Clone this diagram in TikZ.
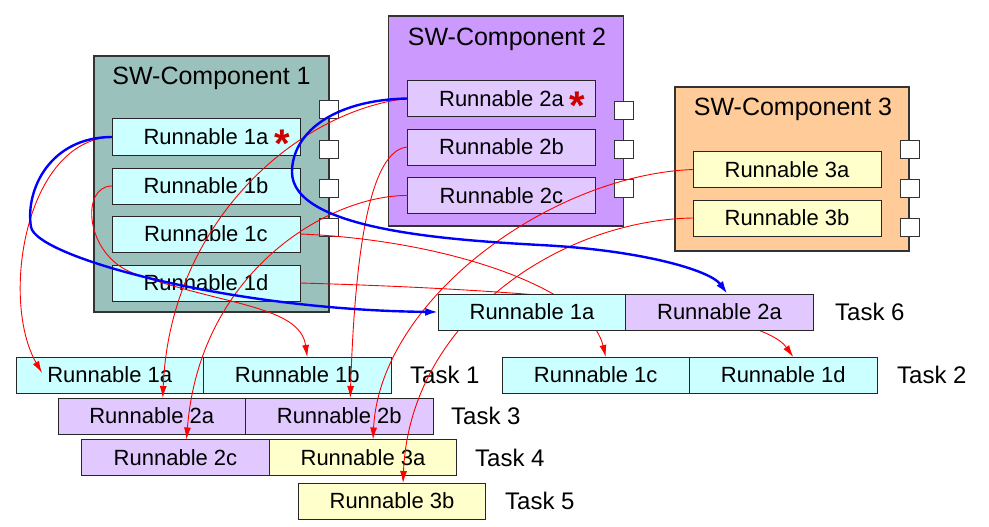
\documentclass[tikz,border=0pt]{standalone}
\usepackage{fontspec}
\setmainfont{Liberation Sans}
\usetikzlibrary{arrows.meta,calc}
\definecolor{cmpA}{RGB}{155,193,188}
\definecolor{cmpB}{RGB}{204,153,255}
\definecolor{cmpC}{RGB}{255,204,153}
\definecolor{runA}{RGB}{204,255,255}
\definecolor{runB}{RGB}{225,200,255}
\definecolor{runC}{RGB}{255,255,204}
\definecolor{edgegray}{RGB}{51,51,51}
\definecolor{starred}{RGB}{204,0,0}
\begin{document}
\begin{tikzpicture}[x=1pt,y=-1pt,
  comp/.style={draw=edgegray,line width=1.2pt,inner sep=0,outer sep=0},
  run/.style={draw=black!85,line width=1pt,inner sep=0,outer sep=0,minimum width=188pt,minimum height=36pt,font=\fontsize{22}{26}\selectfont},
  task/.style={run,minimum width=187.5pt},
  port/.style={draw=edgegray,fill=white,line width=1pt,minimum width=19pt,minimum height=18pt,inner sep=0,outer sep=0},
  title/.style={font=\fontsize{25}{30}\selectfont,inner sep=0},
  tlabel/.style={font=\fontsize{24}{28}\selectfont,inner sep=0,anchor=west},
  flow/.style={red,line width=0.9pt,-{Latex[length=12pt,width=7pt]}},
  call/.style={blue,line width=2.4pt,-{Latex[length=13pt,width=8pt]}},
  starmark/.style={text=starred,font=\fontsize{40}{40}\selectfont\bfseries,inner sep=0}
]
\useasboundingbox (0,0) rectangle (989,527);
% ---------- components ----------
\node[comp,fill=cmpA,minimum width=235pt,minimum height=256pt] (C1) at (211.5,184) {};
\node[comp,fill=cmpB,minimum width=235pt,minimum height=210pt] (C2) at (506,121) {};
\node[comp,fill=cmpC,minimum width=234pt,minimum height=164pt] (C3) at (792,169) {};
\node[title] (T1) at (211.5,78) {SW-Component 1};
\node[title] (T2) at (507,39) {SW-Component 2};
\node[title] (T3) at (793,109) {SW-Component 3};
% runnables in components
\node[run,fill=runA] (r1a) at (206,137) {Runnable 1a};
\node[run,fill=runA] (r1b) at (206,186) {Runnable 1b};
\node[run,fill=runA] (r1c) at (206,234) {Runnable 1c};
\node[run,fill=runA] (r1d) at (206,283) {Runnable 1d};
\node[run,fill=runB] (r2a) at (501.5,98.5) {Runnable 2a};
\node[run,fill=runB] (r2b) at (501.5,147) {Runnable 2b};
\node[run,fill=runB] (r2c) at (501.5,195.5) {Runnable 2c};
\node[run,fill=runC] (r3a) at (787,169.5) {Runnable 3a};
\node[run,fill=runC] (r3b) at (787,218) {Runnable 3b};
% ports
\node[port] (p11) at (328.5,110) {};
\node[port] (p12) at (328.5,149) {};
\node[port] (p13) at (328.5,188) {};
\node[port] (p14) at (328.5,227) {};
\node[port] (p21) at (624,110.5) {};
\node[port] (p22) at (624,149) {};
\node[port] (p23) at (624,188) {};
\node[port] (p31) at (910,149) {};
\node[port] (p32) at (910,188) {};
\node[port] (p33) at (910,227) {};
% stars
\node[starmark] (s1) at (282,144) {*};
\node[starmark] (s2) at (577,106) {*};
% ---------- tasks ----------
\node[task,fill=runA] (k1a) at (109.75,375) {Runnable 1a};
\node[task,fill=runA] (k1b) at (297.25,375) {Runnable 1b};
\node[tlabel] (L1) at (410,375) {Task 1};
\node[task,fill=runB] (k3a) at (151.75,416) {Runnable 2a};
\node[task,fill=runB] (k3b) at (339.25,416) {Runnable 2b};
\node[tlabel] (L3) at (451,416) {Task 3};
\node[task,fill=runB] (k4a) at (175.5,457.5) {Runnable 2c};
\node[task,fill=runC] (k4b) at (363,457.5) {Runnable 3a};
\node[tlabel] (L4) at (475,457.5) {Task 4};
\node[task,fill=runC] (k5) at (392,501) {Runnable 3b};
\node[tlabel] (L5) at (505,501) {Task 5};
\node[task,fill=runA] (k2a) at (595.75,375) {Runnable 1c};
\node[task,fill=runA] (k2b) at (783.25,375) {Runnable 1d};
\node[tlabel] (L2) at (897,375) {Task 2};
% arrow end points
\coordinate (e1) at ($(k1a.north west)+(26,16)$);
\coordinate (e2) at ($(k1b.north)+(10,0)$);
\coordinate (e3) at ($(k3a.north)+(11,0)$);
\coordinate (e4) at ($(k3b.north)+(11,0)$);
\coordinate (e5) at ($(k4a.north)+(11,0)$);
\coordinate (e6) at ($(k4b.north)+(10,0)$);
\coordinate (e7) at ($(k5.north)+(11,0)$);
\coordinate (e8) at ($(k2a.north)+(10,0)$);
\coordinate (e9) at ($(k2b.north)+(10,0)$);
% ---------- red flows ----------
\draw[flow] (r1a.west) .. controls (25,140) and (0,300) .. (e1);
\draw[flow] (r1b.west) .. controls (80,186) and (85,255) .. (133,273) .. controls (220,305) and (300,305) .. (e2);
\draw[flow] (r1c.east) .. controls (450,240) and (590,290) .. (e8);
\draw[flow] (r1d.east) .. controls (550,290) and (760,310) .. (e9);
\draw[flow] (r2a.west) .. controls (300,110) and (170,220) .. (e3);
\draw[flow] (r2b.west) .. controls (370,150) and (355,250) .. (e4);
\draw[flow] (r2c.west) .. controls (330,195) and (200,270) .. (e5);
\draw[flow] (r3a.west) .. controls (550,175) and (380,300) .. (e6);
\draw[flow] (r3b.west) .. controls (560,220) and (410,320) .. (e7);
% ---------- task 6 (on top of lines) ----------
\node[task,fill=runA] (k6a) at (532,312) {Runnable 1a};
\node[task,fill=runB] (k6b) at (719.5,312) {Runnable 2a};
\node[tlabel] (L6) at (835,312) {Task 6};
\coordinate (e10) at ($(k6b.north)+(8,0)$);
% ---------- blue calls ----------
\draw[call] (r1a.west) .. controls (50,137) and (25,190) .. (31,227) .. controls (36,257) and (230,310) .. (k6a.west);
\draw[call] (r2a.west) .. controls (330,100) and (292,135) .. (292,172) .. controls (292,230) and (450,240) .. (540,245) .. controls (640,250) and (710,270) .. (e10);
\end{tikzpicture}
\end{document}
